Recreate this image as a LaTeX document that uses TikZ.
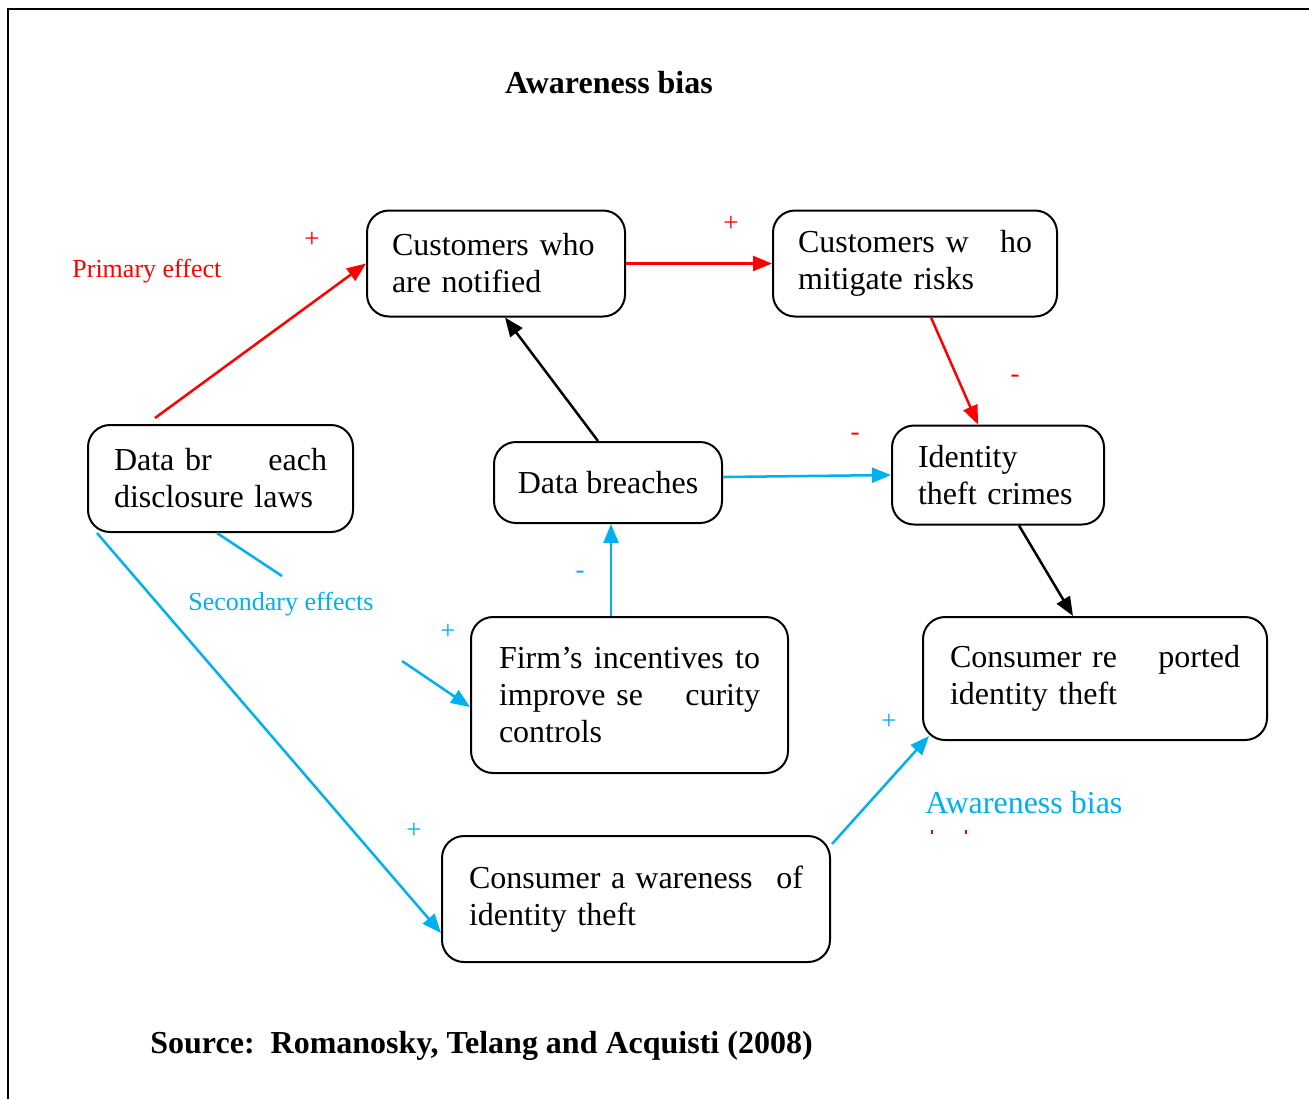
\documentclass[tikz,border=0pt]{standalone}
\usepackage{fontspec}
\setmainfont{Liberation Serif}
\usetikzlibrary{arrows.meta}
\definecolor{myred}{RGB}{255,0,0}
\definecolor{myblue}{RGB}{0,176,240}
\begin{document}
\begin{tikzpicture}[x=0.5pt,y=-0.5pt,
  box/.style={draw, line width=1pt, rounded corners=11pt, align=left, inner ysep=0pt,
    font=\fontsize{16pt}{18.5pt}\selectfont},
  conn/.style={line width=1.25pt, -{Triangle[length=9.5pt,width=7.5pt]}},
  redconn/.style={conn, myred},
  blueconn/.style={conn, myblue},
  blackconn/.style={conn, black},
  sign/.style={inner sep=0pt, font=\fontsize{13.5pt}{15pt}\selectfont},
  redsign/.style={sign, text=myred},
  bluesign/.style={sign, text=myblue},
  effect/.style={inner sep=0pt, anchor=west, font=\fontsize{13pt}{15pt}\selectfont}
]
\useasboundingbox (0,0) rectangle (1309,1099);
% frame
\draw[line width=1pt] (8,1099) -- (8,9) -- (1309,9);

% title and source
\node[font=\bfseries\fontsize{16pt}{18pt}\selectfont] (title) at (609,83) {Awareness bias};
\node[anchor=west, inner sep=0pt, font=\bfseries\fontsize{16pt}{18pt}\selectfont] (src) at (150,1046)
  {Source:\ \ Romanosky, Telang and Acquisti (2008)};

% boxes
\node[box, minimum width=129pt, minimum height=53pt, inner xsep=12.5pt, text width=104pt] (notif) at (496,263.5)
  {Customers who\\are notified};
\node[box, minimum width=142pt, minimum height=53pt, inner xsep=12.5pt, text width=117pt] (mitig) at (915,263.5)
  {\makebox[\linewidth][l]{Customers w\hfill ho}\\mitigate risks};
\node[box, minimum width=132.5pt, minimum height=53.5pt, inner xsep=13pt, text width=106.5pt] (dbdl) at (220.5,478.5)
  {\makebox[\linewidth][l]{Data br\hfill each}\\disclosure laws};
\node[box, align=center, minimum width=114pt, minimum height=40.5pt] (breaches) at (608,482.5)
  {Data breaches};
\node[box, minimum width=106pt, minimum height=49.5pt, inner xsep=13pt, text width=80pt] (idt) at (998,475)
  {Identity\\theft crimes};
\node[box, minimum width=158.5pt, minimum height=78pt, inner xsep=14pt, text width=130.5pt] (firm) at (629.5,695)
  {\makebox[\linewidth][l]{Firm’s\hfill incentives\hfill to}\\\makebox[\linewidth][l]{improve se\hfill curity}\\controls};
\node[box, minimum width=172pt, minimum height=61.5pt, inner xsep=13.5pt, text width=145pt] (rep) at (1095,678.5)
  {\makebox[\linewidth][l]{Consumer re\hfill ported}\\identity theft};
\node[box, minimum width=194pt, minimum height=63pt, inner xsep=13.5pt, text width=167pt] (cawa) at (636,899)
  {\makebox[\linewidth][l]{Consumer a\hspace{5pt}wareness\hfill of}\\identity theft};

% connectors
\draw[redconn] ([shift={(-65.5,-6)}]dbdl.north) -- (notif.west);
\draw[redconn] (notif.east) -- (mitig.west);
\draw[redconn] ([shift={(16,0)}]mitig.south) -- ([shift={(-20,0)}]idt.north);
\draw[blackconn] ([shift={(-10,0)}]breaches.north) -- ([shift={(9,0)}]notif.south);
\draw[blueconn] ([shift={(0,-5.5)}]breaches.east) -- ([shift={(0,0)}]idt.west);
\draw[blackconn] ([shift={(21,0)}]idt.south) -- ([shift={(-22,0)}]rep.north);
\draw[blueconn] ([shift={(-18.5,0)}]firm.north) -- ([shift={(3,0)}]breaches.south);
\coordinate (gapA) at (282,576);
\coordinate (gapB) at (402,661);
\draw[myblue, line width=1.25pt] ([shift={(-3.5,0)}]dbdl.south) -- (gapA);
\draw[blueconn] (gapB) -- ([shift={(0,12)}]firm.west);
\draw[blueconn] ([shift={(10,0)}]dbdl.south west) -- ([shift={(0,34)}]cawa.west);
\draw[blueconn] ([shift={(1,9)}]cawa.north east) -- ([shift={(7,-5)}]rep.south west);

% labels
\node[redsign] (s1) at (312,240) {+};
\node[effect, text=myred] (prim) at (72,271) {Primary effect};
\node[redsign] (s2) at (731,224) {+};
\node[redsign] (s3) at (1015,379) {-};
\node[redsign] (s4) at (855,437) {-};
\node[bluesign] (s5) at (580,575) {-};
\node[bluesign] (s6) at (448,632) {+};
\node[effect, text=myblue] (sec) at (188,604) {Secondary effects};
\node[bluesign] (s7) at (889,722) {+};
\node[bluesign] (s8) at (414,831) {+};
\node[anchor=west, inner sep=0pt, text=myblue, font=\fontsize{16pt}{18pt}\selectfont] (aw) at (925,803) {Awareness bias};
\draw[myred, line width=0.6pt] (932,830) -- (932,834);
\draw[myred, line width=0.6pt] (966,830) -- (966,834);
\end{tikzpicture}
\end{document}
